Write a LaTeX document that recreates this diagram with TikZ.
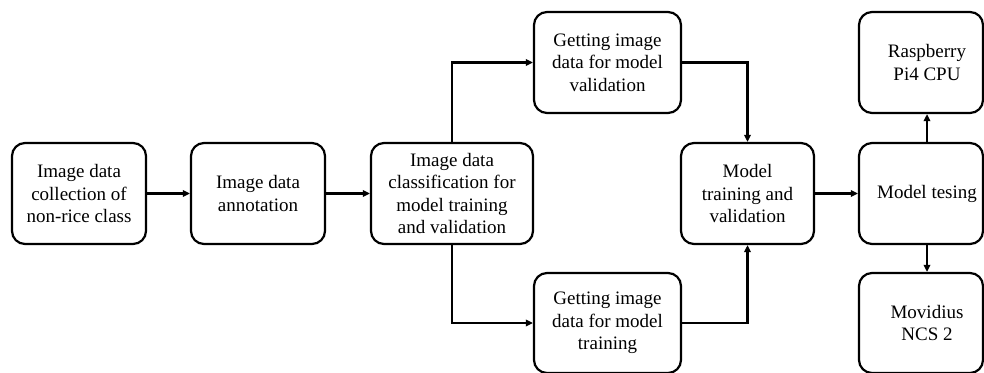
\documentclass[tikz,border=0pt]{standalone}
\usepackage{fontspec}
\setmainfont{Liberation Serif}
\usetikzlibrary{arrows.meta}
\begin{document}
\begin{tikzpicture}[x=1pt,y=-1pt,
  boxshape/.style={draw, line width=2.2pt, rounded corners=13pt, minimum height=101pt, inner sep=0pt, align=center,
     font=\fontsize{19}{22.5}\selectfont},
  txt/.style={inner sep=0pt, align=center, font=\fontsize{19}{22.5}\selectfont},
  arr/.style={line width=2.2pt, -{Triangle[length=7pt,width=6.5pt]}}]
\useasboundingbox (0,0) rectangle (984,372);
\node[boxshape, minimum width=134pt] (b1) at (79,193.5) {Image data\\collection of\\non-rice class};
\node[boxshape, minimum width=134pt] (b2) at (258,193.5) {Image data\\annotation};
\node[boxshape, minimum width=162pt] (b3) at (452,193.5) {Image data\\classification for\\model training\\and validation};
\node[boxshape, minimum width=147pt] (val) at (607.5,62.5) {Getting image\\data for model\\validation};
\node[boxshape, minimum width=147pt, minimum height=100pt] (train) at (607.5,323) {Getting image\\data for model\\training};
\node[boxshape, minimum width=133pt] (model) at (747.5,193.5) {Model\\training and\\validation};
\node[boxshape, minimum width=124pt] (test) at (921,193.5) {};
\node[boxshape, minimum width=124pt] (rasp) at (921,62.5) {};
\node[boxshape, minimum width=124pt, minimum height=100pt] (mov) at (921,323) {};
\node[txt] (testt) at (927,193.5) {Model tesing};
\node[txt] (raspt) at (927,62.5) {Raspberry\\Pi4 CPU};
\node[txt] (movt) at (927,323) {Movidius\\NCS 2};
\draw[arr] (b1) -- (b2);
\draw[arr] (b2) -- (b3);
\draw[arr] (b3.north) |- (val.west);
\draw[arr] (b3.south) |- (train.west);
\draw[arr] (val.east) -| (model.north);
\draw[arr] (train.east) -| (model.south);
\draw[arr] (model) -- (test);
\draw[arr] (test.north -| testt) -- (rasp.south -| testt);
\draw[arr] (test.south -| testt) -- (mov.north -| testt);
\end{tikzpicture}
\end{document}
